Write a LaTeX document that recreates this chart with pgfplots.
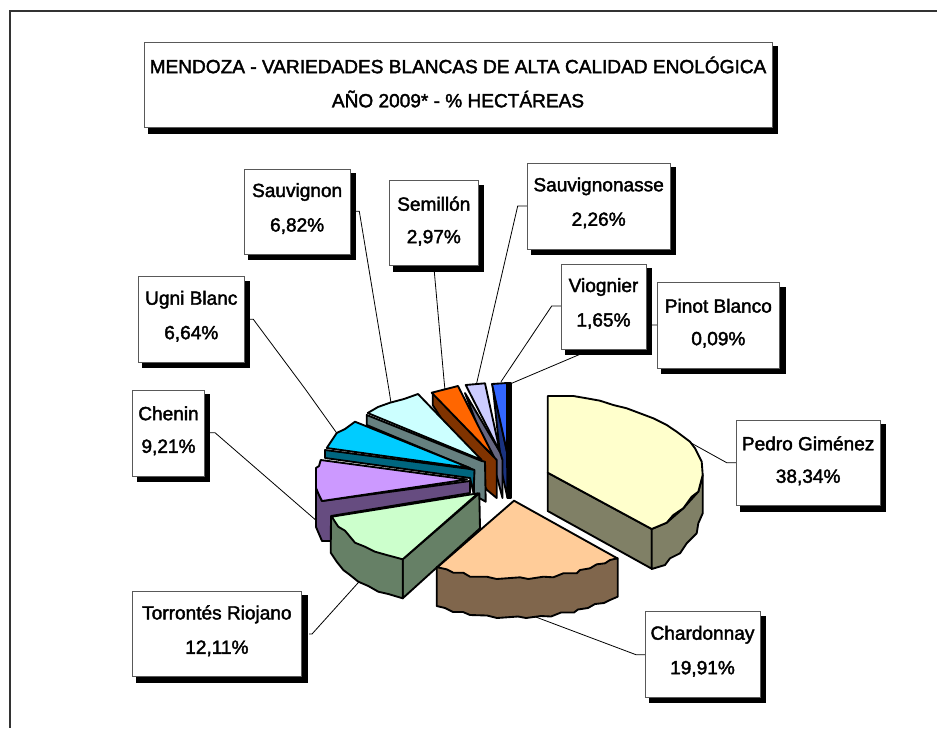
\documentclass[border=0pt]{standalone}
\usepackage{fontspec}
\setmainfont[Ligatures=TeX]{Liberation Sans}
\newfontfamily\lf[FakeBold=2]{Liberation Sans}
\usepackage{pgfplots}
\usetikzlibrary{calc}
\pgfplotsset{compat=1.18}
\definecolor{viognierT}{HTML}{3366FF}\definecolor{viognierS}{HTML}{1A3380}
\definecolor{sauvaT}{HTML}{CCCCFF}\definecolor{sauvaS}{HTML}{666680}
\definecolor{semT}{HTML}{FF6600}\definecolor{semS}{HTML}{803300}
\definecolor{sauT}{HTML}{CCFFFF}\definecolor{sauS}{HTML}{668080}
\definecolor{ugniT}{HTML}{00CCFF}\definecolor{ugniS}{HTML}{006680}
\definecolor{cheT}{HTML}{CC99FF}\definecolor{cheS}{HTML}{664C80}
\definecolor{torT}{HTML}{CCFFCC}\definecolor{torS}{HTML}{668066}
\definecolor{chaT}{HTML}{FFCC99}\definecolor{chaS}{HTML}{80664C}
\definecolor{pedT}{HTML}{FFFFCC}\definecolor{pedS}{HTML}{808066}
\newcommand\face[2]{\addplot[fill=#1,draw=black,line width=1.4pt,line join=round] coordinates {#2} -- cycle;}
\newcommand\lead[1]{\addplot[draw=black,line width=0.6pt] coordinates {#1};}
\newcommand\lab[6]{%
 \pgfmathsetmacro\sxa{#1+4}\pgfmathsetmacro\sya{#2+4}\pgfmathsetmacro\sxb{#3+6}\pgfmathsetmacro\syb{#4+6}%
 \addplot[fill=black,draw=none] coordinates {(\sxa,\sya) (\sxb,\sya) (\sxb,\syb) (\sxa,\syb)} -- cycle;
 \addplot[fill=white,draw=black!65,line width=0.7pt] coordinates {(#1,#2) (#3,#2) (#3,#4) (#1,#4)} -- cycle;
 \node[inner sep=0pt,anchor=center,yshift=-17.3pt,font=\lf\fontsize{14.3pt}{16pt}\selectfont] at ($(axis cs:#1,#2)!0.5!(axis cs:#3,#2)$) {#5};
 \node[inner sep=0pt,anchor=center,yshift=-42.8pt,font=\lf\fontsize{14.3pt}{16pt}\selectfont] at ($(axis cs:#1,#2)!0.5!(axis cs:#3,#2)$) {#6};
}
\begin{document}
\begin{tikzpicture}
\begin{axis}[scale only axis,width=702.75pt,height=546pt,xmin=0,xmax=937,ymin=0,ymax=728,y dir=reverse,
 hide axis,no markers,clip=true,axis on top=false]
\addplot[fill=white,draw=none] coordinates {(0,0) (937,0) (937,728) (0,728)} -- cycle;
% frame
\addplot[draw=black!80,line width=0.85pt] coordinates {(937,11) (10,11) (10,728)};
% leaders
\lead{(210,432.7) (215,432.7) (303.3,509.3) (318,522)}
\lead{(250,319.3) (253.3,319.3) (305,388.7) (336.7,433)}
\lead{(356,211.3) (359.3,211.3) (389,390) (391,403)}
\lead{(434.3,271.7) (444,380) (445,390)}
\lead{(527,206) (517.7,206) (476.7,383)}
\lead{(561,306) (551.7,306) (501,381.7)}
\lead{(657,325) (651.7,325) (578.3,355) (510,384)}
\lead{(736.3,462.7) (726.7,462.7) (691.7,443.3)}
\lead{(535,616.7) (636,654.7) (645,654.7)}
\lead{(309,634) (312,634) (360,580.7)}
% labels
\lab{144}{42.3}{772.3}{127.7}{}{}
\node[inner sep=0pt,font=\lf\fontsize{14.3pt}{16pt}\selectfont] at (axis cs:458,65) {MENDOZA - VARIEDADES BLANCAS DE ALTA CALIDAD ENOLÓGICA};
\node[inner sep=0pt,font=\lf\fontsize{14.3pt}{16pt}\selectfont] at (axis cs:458,99) {AÑO 2009* - \% HECTÁREAS};
\lab{244.3}{169}{350}{254.3}{Sauvignon}{6,82\%}
\lab{138.3}{276.7}{244.3}{362.3}{Ugni Blanc}{6,64\%}
\lab{389.3}{180.7}{478.3}{265.7}{Semillón}{2,97\%}
\lab{527}{163.3}{670.3}{249}{Sauvignonasse}{2,26\%}
\lab{561}{264}{646}{349.3}{Viognier}{1,65\%}
\lab{657}{282.7}{779.7}{368}{Pinot Blanco}{0,09\%}
\lab{132.7}{390.3}{204.3}{476}{Chenin}{9,21\%}
\lab{736.3}{420.3}{880}{505.7}{Pedro Giménez}{38,34\%}
\lab{132}{591.3}{301.8}{676.7}{Torrontés Riojano}{12,11\%}
\lab{645}{611.7}{760}{697.3}{Chardonnay}{19,91\%}
% Pinot Blanco
\face{black}{(507,383) (511,383) (511,498) (507.5,498)}
% Viognier
\face{viognierS}{(492.5,384) (507,452) (507.5,498) (502,473)}
\face{viognierT}{(492,384) (507,383) (507,452)}
% Sauvignonasse
\face{sauvaS}{(465,393) (500,452) (502.5,460) (502.5,498) (497,477)}
\face{sauvaT}{(465.7,385) (485,383.3) (500,452)}
% Semillon
\face{semS}{(432.7,393) (494,457) (496.7,460) (496.7,498) (487,490) (432.7,405)}
\face{semT}{(431.7,392.7) (458,386) (494,457)}
% Sauvignon
\face{sauS}{(366.7,415) (481.7,461) (485,461.7) (485.7,501.7) (474,495) (474,470) (366.7,425)}
\face{sauT}{(367.7,413) (378,407) (390,402.7) (404,399) (418,394) (481.7,460)}
% Ugni
\face{ugniS}{(325,450) (470,469) (474.5,470) (473.5,493) (470,478) (325,458)}
\face{ugniT}{(326.7,448) (336.7,433) (345,429) (355,421.7) (470,468)}
% Chenin
\face{cheS}{(316,488) (322,501) (470,481) (470,493) (331,516) (331,541) (322,541) (316,527)}
\face{cheT}{(320.7,460) (319,466) (316,468) (316,488) (319,495) (322,501) (467,479.5)}
% Torrontes
\face{torS}{(402.7,559.3) (479.3,493.3) (480,528.3) (402.7,598.3)}
\face{torS}{(331,517) (330.7,552.7) (336.7,561.7) (343.3,570) (350,575) (358.3,581.7) (368.3,586) (378.3,591.7) (388.3,594) (402.7,598.3) (402.7,559.3)}
\face{torT}{(331.7,516.7) (338.3,526.7) (345,530.7) (350,536.7) (355,542.7) (365,546.7) (375,551.7) (386.7,555) (402.7,559.3) (478,493.3)}
% Chardonnay
\face{chaS}{(436.7,567) (436.7,606) (445,608) (453,612) (463,612) (470,615) (487,615.5) (497,618) (518,616.5) (526,618) (541,616) (551,616.5) (561,612.5) (574,612.5) (578,609.5) (588,608) (595,604) (604,603) (610,600) (617.7,596.7) (617.7,558.3)}
\face{chaT}{(514,500.7) (617.3,558.3) (610,560) (605,563.3) (596.7,564.3) (590,568.3) (580,570) (576.7,573.3) (563.3,573.3) (553.3,577.3) (543.3,576.7) (528.3,579) (520,577.3) (496.7,579) (486.7,576.7) (470,576.7) (463.3,572.7) (453.3,572.7) (446.7,569.3) (437.3,567.3)}
% Pedro
\face{pedS}{(547.7,472.7) (651.7,529) (651.7,568.7) (547.7,511)}
\face{pedS}{(651.7,529) (666.7,522.7) (683.3,508.3) (698.3,491.7) (702.7,475) (702.7,513.3) (698.3,523.3) (696.7,533.3) (686.7,543.3) (680,553.3) (670,558.3) (665,565) (651.7,569)}
\face{pedT}{(547.7,396) (573.3,396) (586.7,398.3) (600,400.7) (613.3,405) (626.7,408.3) (640,413.3) (653.3,418.3) (666.7,425) (676.7,431.7) (690,441.7) (695,448.3) (701.7,461.7) (702.7,475) (698.3,491.7) (691.7,496.7) (683.3,508.3) (673.3,515) (666.7,522.7) (651.7,529) (547.7,472.7)}
\end{axis}
\end{tikzpicture}
\end{document}
